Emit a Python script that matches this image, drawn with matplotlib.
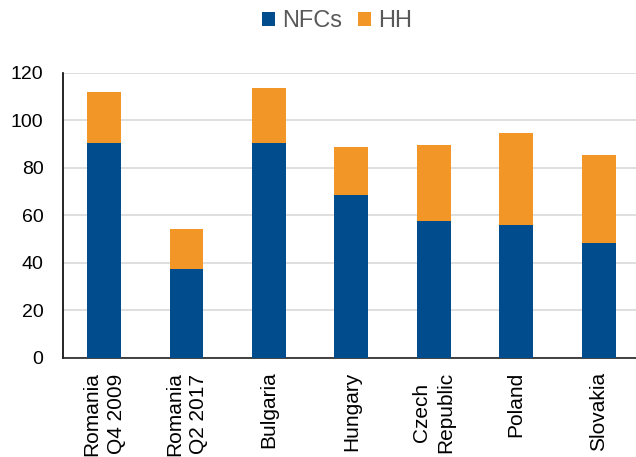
import matplotlib
matplotlib.use("Agg")
import matplotlib.pyplot as plt
import numpy as np

plt.rcParams["font.family"] = ["Liberation Sans", "DejaVu Sans"]

categories = ["Romania\nQ4 2009", "Romania\nQ2 2017", "Bulgaria", "Hungary",
              "Czech\nRepublic", "Poland", "Slovakia"]
nfcs = [90.3, 37.5, 90.3, 68.5, 57.7, 56.0, 48.4]
hh = [21.7, 16.7, 23.4, 20.1, 31.7, 38.6, 36.8]

blue = "#004c8c"
orange = "#f39628"

fig = plt.figure(figsize=(6.36, 4.57), dpi=100)
ax = fig.add_axes([0.099, 0.217, 0.907, 0.624])

x = np.arange(len(categories))
ax.bar(x, nfcs, width=0.41, color=blue, label="NFCs", zorder=3)
ax.bar(x, hh, width=0.41, bottom=nfcs, color=orange, label="HH", zorder=3)

ax.set_xlim(-0.5, len(categories) - 0.5)
ax.set_ylim(0, 120)
ax.set_yticks(range(0, 121, 20))
ax.set_xticks(x)
ax.set_xticklabels(categories, rotation=90, va="top", ha="center",
                   linespacing=1.35, fontsize=15)
ax.yaxis.grid(True, color="#d9d9d9", linewidth=1.2, zorder=0)
ax.tick_params(axis="both", length=0, labelsize=14)
ax.tick_params(axis="x", labelsize=15)
ax.tick_params(axis="y", pad=14)
ax.tick_params(axis="x", pad=10)

for s in ["top", "right"]:
    ax.spines[s].set_visible(False)
ax.spines["left"].set_color("black")
ax.spines["left"].set_linewidth(1.2)
ax.spines["bottom"].set_color("#222222")
ax.spines["bottom"].set_linewidth(1.2)

leg = fig.legend(loc="center", bbox_to_anchor=(0.530, 0.953), ncol=2,
                 frameon=False, fontsize=17, handlelength=0.55,
                 handleheight=0.55, handletextpad=0.3, columnspacing=0.7)
for t in leg.get_texts():
    t.set_color("#595959")

fig.savefig("out.png", dpi=100)
